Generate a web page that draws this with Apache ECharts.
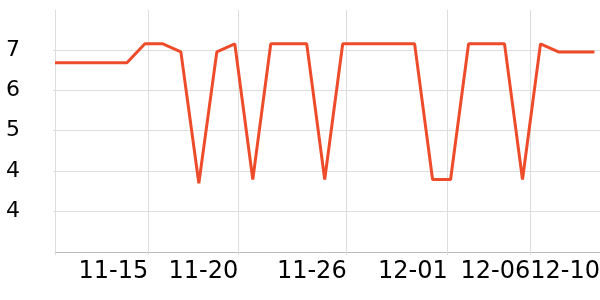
<!DOCTYPE html>
<html>
<head>
<meta charset="utf-8">
<script src="https://cdn.jsdelivr.net/npm/echarts@6/dist/echarts.min.js"></script>
<style>html,body{margin:0;padding:0;background:#fff}#c{width:600px;height:300px}</style>
</head>
<body>
<div id="c"></div>
<script>
// Daily categories (one point per day)
const categories = ['11-10','11-11','11-12','11-13','11-14','11-15','11-16','11-17','11-18','11-19',
  '11-20','11-21','11-22','11-23','11-24','11-25','11-26','11-27','11-28','11-29','11-30',
  '12-01','12-02','12-03','12-04','12-05','12-06','12-07','12-08','12-09','12-10'];
const values = [6.73,6.73,6.73,6.73,6.73,7.13,7.13,6.96,4.19,6.96,
  7.13,4.27,7.13,7.13,7.13,4.27,7.13,7.13,7.13,7.13,7.13,
  4.27,4.27,7.13,7.13,7.13,4.27,7.13,6.96,6.96,6.96];
// x-axis tick labels and where they sit (in day-index units)
const xTickLabels = ['11-15','11-20','11-26','12-01','12-06','12-10'];
const xTickAt = [5.19, 10.19, 16.22, 21.84, 26.43, 30.31];
// y-axis tick values
const yTicks = [3.6, 4.45, 5.3, 6.15, 7.0];

const chart = echarts.init(document.getElementById('c'), null, {renderer:'canvas'});
const labelMap = {};
xTickAt.forEach((v,i)=>{ labelMap[v] = xTickLabels[i]; });
chart.setOption({
  animation: false,
  grid: {left: 55, right: 0, top: 10, bottom: 48, containLabel: false, outerBoundsMode: 'none'},
  xAxis: {
    type: 'value', min: 0, max: 30.31,
    axisLine: {show: true, lineStyle: {color: '#bbbbbb', width: 1}},
    axisTick: {show: true, length: 3, lineStyle: {color: '#dddddd'}, customValues: [0].concat(xTickAt)},
    axisLabel: {customValues: xTickAt, align: 'right', fontSize: 24, color: '#000', fontFamily: 'DejaVu Sans', margin: 8,
      showMaxLabel: true, hideOverlap: false,
      formatter: v => labelMap[v] || ''},
    splitLine: {show: true, lineStyle: {color: '#dddddd', width: 1}}
  },
  yAxis: {
    type: 'value', min: 2.742, max: 7.843,
    axisLine: {show: false},
    axisTick: {show: true, length: 2, lineStyle: {color: '#dddddd'}, customValues: yTicks},
    axisLabel: {customValues: yTicks, fontSize: 22, color: '#000', fontFamily: 'DejaVu Sans', margin: 35,
      formatter: v => v.toFixed(0)},
    splitLine: {show: true, lineStyle: {color: '#dddddd', width: 1}}
  },
  series: [{
    type: 'line',
    data: values.map((v,i)=>[categories.indexOf(categories[i]), v]),
    showSymbol: false, symbol: 'none',
    lineStyle: {color: '#ee4b2b', width: 3},
    itemStyle: {color: '#ee4b2b'}
  }]
});
</script>
</body>
</html>
